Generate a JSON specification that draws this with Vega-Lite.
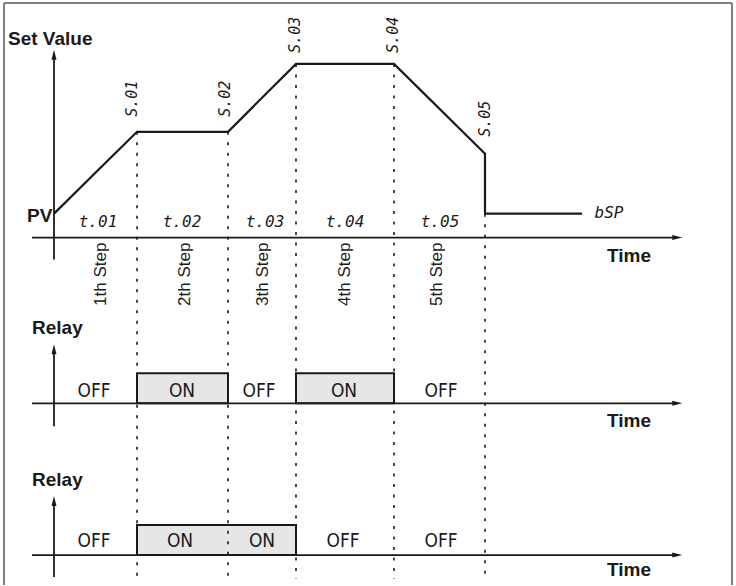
{
  "$schema": "https://vega.github.io/schema/vega-lite/v6.json",
  "width": 736,
  "height": 586,
  "padding": 0,
  "autosize": {"type": "fit", "contains": "padding"},
  "config": {"view": {"stroke": null}},
  "background": "white",
  "datasets": {
    "sv": [
      {"i": 0, "x": 54, "y": 214},
      {"i": 1, "x": 137, "y": 132},
      {"i": 2, "x": 228, "y": 132},
      {"i": 3, "x": 296, "y": 64},
      {"i": 4, "x": 394, "y": 64},
      {"i": 5, "x": 485, "y": 154},
      {"i": 6, "x": 485, "y": 214},
      {"i": 7, "x": 582, "y": 214}
    ],
    "axes": [
      {"x": 54, "y": 260, "x2": 54, "y2": 55},
      {"x": 32, "y": 238, "x2": 677, "y2": 238},
      {"x": 54, "y": 427, "x2": 54, "y2": 350},
      {"x": 32, "y": 404, "x2": 677, "y2": 404},
      {"x": 54, "y": 578, "x2": 54, "y2": 502},
      {"x": 32, "y": 556, "x2": 677, "y2": 556}
    ],
    "arrowsUp": [{"x": 54, "y": 56}, {"x": 54, "y": 351}, {"x": 54, "y": 503}],
    "arrowsRight": [{"x": 676, "y": 238}, {"x": 676, "y": 404}, {"x": 676, "y": 556}],
    "dotted": [
      {"x": 137, "y": 132, "y2": 580},
      {"x": 228, "y": 132, "y2": 580},
      {"x": 296, "y": 64, "y2": 580},
      {"x": 394, "y": 64, "y2": 580},
      {"x": 485, "y": 214, "y2": 580}
    ],
    "boxes": [
      {"x": 137, "x2": 228, "y": 374, "y2": 404},
      {"x": 296, "x2": 394, "y": 374, "y2": 404},
      {"x": 137, "x2": 296, "y": 526, "y2": 556}
    ],
    "frame": [
      {"x": 4, "y": 3, "x2": 4, "y2": 586},
      {"x": 4, "y": 3, "x2": 732, "y2": 3},
      {"x": 732, "y": 3, "x2": 732, "y2": 586}
    ],
    "bold": [
      {"x": 8, "y": 45, "t": "Set Value"},
      {"x": 27, "y": 222, "t": "PV"},
      {"x": 607, "y": 262, "t": "Time"},
      {"x": 32, "y": 335, "t": "Relay"},
      {"x": 607, "y": 428, "t": "Time"},
      {"x": 32, "y": 487, "t": "Relay"},
      {"x": 607, "y": 577, "t": "Time"}
    ],
    "steps": [
      {"x": 101, "y": 243, "t": "1th Step"},
      {"x": 185, "y": 243, "t": "2th Step"},
      {"x": 263, "y": 243, "t": "3th Step"},
      {"x": 345, "y": 243, "t": "4th Step"},
      {"x": 437, "y": 243, "t": "5th Step"}
    ],
    "seg": [
      {"x": 98, "y": 222, "t": "t.01"},
      {"x": 182, "y": 222, "t": "t.02"},
      {"x": 265, "y": 222, "t": "t.03"},
      {"x": 345, "y": 222, "t": "t.04"},
      {"x": 440, "y": 222, "t": "t.05"},
      {"x": 609, "y": 213, "t": "bSP"}
    ],
    "segRot": [
      {"x": 132, "y": 117, "t": "S.01"},
      {"x": 225, "y": 117, "t": "S.02"},
      {"x": 295, "y": 53, "t": "S.03"},
      {"x": 393, "y": 53, "t": "S.04"},
      {"x": 485, "y": 137, "t": "S.05"}
    ],
    "relay": [
      {"x": 94, "y": 398, "t": "OFF"},
      {"x": 182, "y": 398, "t": "ON"},
      {"x": 259, "y": 398, "t": "OFF"},
      {"x": 344, "y": 398, "t": "ON"},
      {"x": 441, "y": 398, "t": "OFF"},
      {"x": 94, "y": 548, "t": "OFF"},
      {"x": 180, "y": 548, "t": "ON"},
      {"x": 262, "y": 548, "t": "ON"},
      {"x": 343, "y": 548, "t": "OFF"},
      {"x": 441, "y": 548, "t": "OFF"}
    ]
  },
  "encoding": {
    "x": {"field": "x", "type": "quantitative", "axis": null, "scale": {"domain": [0, 736], "nice": false, "zero": false}},
    "y": {"field": "y", "type": "quantitative", "axis": null, "scale": {"domain": [0, 586], "nice": false, "zero": false, "reverse": true}}
  },
  "layer": [
    {
      "data": {"name": "frame"},
      "mark": {"type": "rule", "color": "#808080", "strokeWidth": 2},
      "encoding": {"x2": {"field": "x2"}, "y2": {"field": "y2"}}
    },
    {
      "data": {"name": "boxes"},
      "mark": {"type": "rect", "fill": "#e6e6e6", "stroke": "#1a1a1a", "strokeWidth": 2},
      "encoding": {"x2": {"field": "x2"}, "y2": {"field": "y2"}}
    },
    {
      "data": {"name": "dotted"},
      "mark": {"type": "rule", "color": "#1a1a1a", "strokeWidth": 1.6, "strokeDash": [3, 7.5]},
      "encoding": {"y2": {"field": "y2"}}
    },
    {
      "data": {"name": "axes"},
      "mark": {"type": "rule", "color": "#1a1a1a", "strokeWidth": 1.8},
      "encoding": {"x2": {"field": "x2"}, "y2": {"field": "y2"}}
    },
    {
      "data": {"name": "arrowsUp"},
      "mark": {"type": "point", "shape": "M0,-1L0.4,0.6L-0.4,0.6Z", "size": 156, "filled": true, "color": "#1a1a1a", "opacity": 1, "strokeWidth": 0}
    },
    {
      "data": {"name": "arrowsRight"},
      "mark": {"type": "point", "shape": "M0,-1L0.4,0.6L-0.4,0.6Z", "angle": 90, "size": 156, "filled": true, "color": "#1a1a1a", "opacity": 1, "strokeWidth": 0}
    },
    {
      "data": {"name": "sv"},
      "mark": {"type": "line", "color": "#1a1a1a", "strokeWidth": 2.2, "strokeJoin": "miter"},
      "encoding": {"order": {"field": "i", "type": "quantitative"}}
    },
    {
      "data": {"name": "bold"},
      "mark": {"type": "text", "font": "Liberation Sans", "fontWeight": "bold", "fontSize": 19, "align": "left", "baseline": "alphabetic", "color": "#1a1a1a"},
      "encoding": {"text": {"field": "t"}}
    },
    {
      "data": {"name": "steps"},
      "mark": {"type": "text", "font": "Liberation Sans", "fontSize": 17, "angle": 270, "align": "right", "baseline": "middle", "color": "#1a1a1a"},
      "encoding": {"text": {"field": "t"}}
    },
    {
      "data": {"name": "seg"},
      "mark": {"type": "text", "font": "DejaVu Sans Mono", "fontStyle": "italic", "fontSize": 16, "align": "center", "baseline": "middle", "color": "#1a1a1a"},
      "encoding": {"text": {"field": "t"}}
    },
    {
      "data": {"name": "segRot"},
      "mark": {"type": "text", "font": "DejaVu Sans Mono", "fontStyle": "italic", "fontSize": 15, "angle": 270, "align": "left", "baseline": "middle", "color": "#1a1a1a"},
      "encoding": {"text": {"field": "t"}}
    },
    {
      "data": {"name": "relay"},
      "mark": {"type": "text", "font": "DejaVu Sans Condensed, Liberation Sans, sans-serif", "fontSize": 19, "align": "center", "baseline": "alphabetic", "color": "#1a1a1a"},
      "encoding": {"text": {"field": "t"}}
    }
  ]
}
